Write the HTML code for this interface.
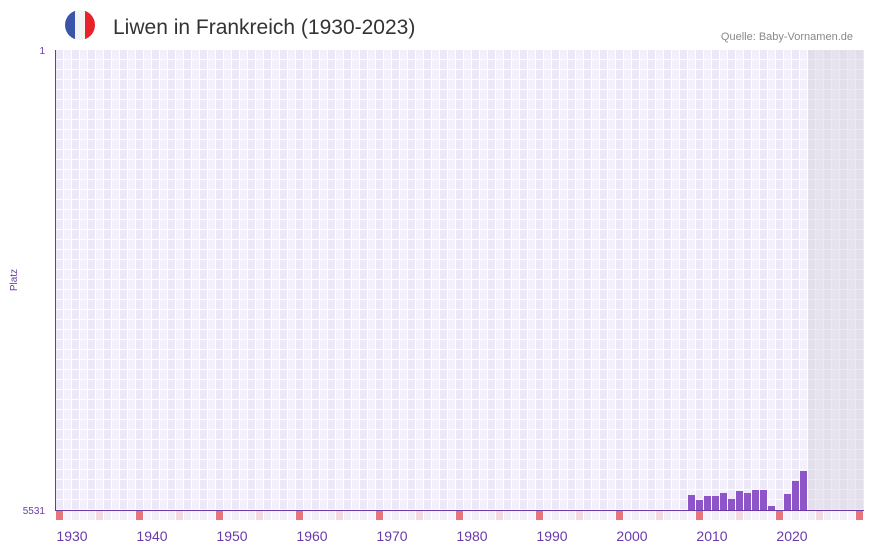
<!DOCTYPE html>
<html><head><style>
body{margin:0;width:873px;height:552px;background:#fff;overflow:hidden;font-family:"Liberation Sans",sans-serif}
</style></head><body>
<svg width="873" height="552" xmlns="http://www.w3.org/2000/svg">
<defs>
<pattern id="g" x="56" y="50" width="16" height="10" patternUnits="userSpaceOnUse">
<rect width="16" height="10" fill="#fff"/>
<rect x="0" y="0" width="7" height="9" fill="#ede8f8"/>
<rect x="8" y="0" width="7" height="9" fill="#f3effb"/>
</pattern>
<pattern id="s" x="56" y="50" width="16" height="10" patternUnits="userSpaceOnUse">
<rect width="16" height="10" fill="#ece9f0"/>
<rect x="0" y="0" width="7" height="9" fill="#e2deea"/>
<rect x="8" y="0" width="7" height="9" fill="#e7e3ee"/>
</pattern>
<pattern id="b" x="56" y="511" width="16" height="10" patternUnits="userSpaceOnUse">
<rect width="16" height="10" fill="#fff"/>
<rect x="0" y="0" width="7" height="9" fill="#f1edf9"/>
<rect x="8" y="0" width="7" height="9" fill="#f6f3fc"/>
</pattern>
<clipPath id="c"><circle cx="80" cy="25" r="15"/></clipPath>
</defs>
<g clip-path="url(#c)">
<rect x="65" y="10" width="10" height="30" fill="#3a55a8"/>
<rect x="75" y="10" width="10" height="30" fill="#f3f3f3"/>
<rect x="85" y="10" width="10" height="30" fill="#e8222b"/>
</g>
<text x="113" y="34" font-size="21" fill="#333">Liwen in Frankreich (1930-2023)</text>
<text x="853" y="40" font-size="11" fill="#888" text-anchor="end">Quelle: Baby-Vornamen.de</text>
<rect x="56" y="50" width="752" height="460" fill="url(#g)"/>
<rect x="808" y="50" width="56" height="460" fill="url(#s)"/>
<rect x="56" y="511" width="808" height="9" fill="url(#b)"/>
<g fill="#e8747c">
<rect x="56" y="511" width="7" height="9"/><rect x="136" y="511" width="7" height="9"/><rect x="216" y="511" width="7" height="9"/><rect x="296" y="511" width="7" height="9"/><rect x="376" y="511" width="7" height="9"/><rect x="456" y="511" width="7" height="9"/><rect x="536" y="511" width="7" height="9"/><rect x="616" y="511" width="7" height="9"/><rect x="696" y="511" width="7" height="9"/><rect x="776" y="511" width="7" height="9"/><rect x="856" y="511" width="7" height="9"/>
</g>
<g fill="#f5d8e0">
<rect x="96" y="511" width="7" height="9"/><rect x="176" y="511" width="7" height="9"/><rect x="256" y="511" width="7" height="9"/><rect x="336" y="511" width="7" height="9"/><rect x="416" y="511" width="7" height="9"/><rect x="496" y="511" width="7" height="9"/><rect x="576" y="511" width="7" height="9"/><rect x="656" y="511" width="7" height="9"/><rect x="736" y="511" width="7" height="9"/><rect x="816" y="511" width="7" height="9"/>
</g>
<g fill="#8e55c9">
<rect x="688" y="495" width="7" height="15"/><rect x="696" y="500" width="7" height="10"/><rect x="704" y="496" width="7" height="14"/><rect x="712" y="496" width="7" height="14"/><rect x="720" y="493" width="7" height="17"/><rect x="728" y="499" width="7" height="11"/><rect x="736" y="491" width="7" height="19"/><rect x="744" y="493" width="7" height="17"/><rect x="752" y="490" width="7" height="20"/><rect x="760" y="490" width="7" height="20"/><rect x="768" y="506" width="7" height="4"/><rect x="784" y="494" width="7" height="16"/><rect x="792" y="481" width="7" height="29"/><rect x="800" y="471" width="7" height="39"/>
</g>
<line x1="55.5" y1="50" x2="55.5" y2="511" stroke="#6a3aa8" stroke-width="1"/>
<line x1="55" y1="510.5" x2="864" y2="510.5" stroke="#6a3aa8" stroke-width="1"/>
<g font-size="10" fill="#6a3aa8" text-anchor="end">
<text x="45" y="54">1</text><text x="45" y="514">5531</text>
</g>
<text x="17" y="280" font-size="10" fill="#6a3aa8" text-anchor="middle" transform="rotate(-90 17 280)">Platz</text>
<g font-size="14" fill="#6a3aa8" text-anchor="middle">
<text x="72" y="541">1930</text><text x="152" y="541">1940</text><text x="232" y="541">1950</text><text x="312" y="541">1960</text><text x="392" y="541">1970</text><text x="472" y="541">1980</text><text x="552" y="541">1990</text><text x="632" y="541">2000</text><text x="712" y="541">2010</text><text x="792" y="541">2020</text>
</g>
</svg>
</body></html>
